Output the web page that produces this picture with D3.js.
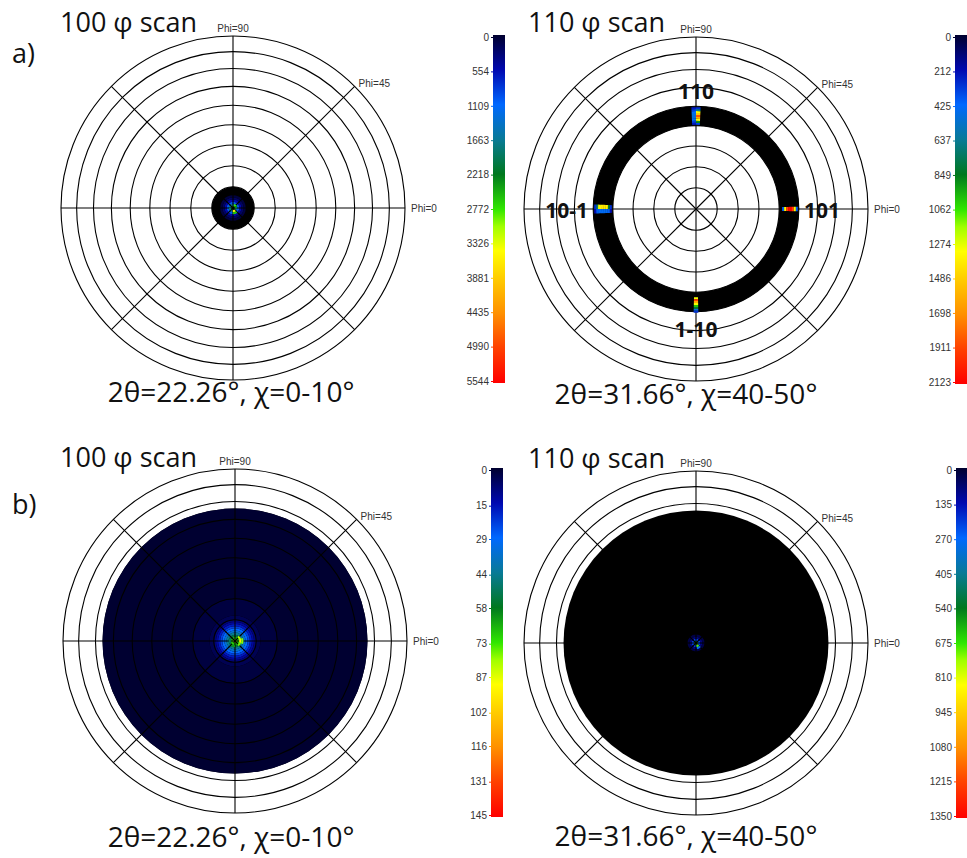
<!DOCTYPE html>
<html>
<head>
<meta charset="utf-8">
<script src="https://cdn.jsdelivr.net/npm/d3@7"></script>
<style>
  body { margin: 0; background: #fff; }
  .big { font-family: "Open Sans", sans-serif; fill: #111; }
  .small { font-family: "Liberation Sans", Arial, sans-serif; font-size: 10px; fill: #333; }
</style>
</head>
<body>
<svg id="chart" width="967" height="858"></svg>
<script>
// polar grid (chi rings every 10 deg, phi spokes every 45 deg)
const chiRings = [10, 20, 30, 40, 50, 60, 70, 80, 90];
const phiSpokes = [0, 45, 90, 135, 180, 225, 270, 315];

// colour bar tick labels of each scan
const ticksA100 = [0, 554, 1109, 1663, 2218, 2772, 3326, 3881, 4435, 4990, 5544];
const ticksA110 = [0, 212, 425, 637, 849, 1062, 1274, 1486, 1698, 1911, 2123];
const ticksB100 = [0, 15, 29, 44, 58, 73, 87, 102, 116, 131, 145];
const ticksB110 = [0, 135, 270, 405, 540, 675, 810, 945, 1080, 1215, 1350];

// measured chi range of each scan [from, to]
const coverA100 = [0, 10];
const coverA110 = [40, 50];
const coverB100 = [0, 66];
const coverB110 = [0, 66];

// radial intensity profile: [chiFrom, chiTo, counts]
const profileA100 = [[0, 1, 2400], [1, 2, 1600], [2, 3, 1000], [3, 4, 520], [4, 5, 220], [5, 6, 70]];
const profileA110 = [];
const profileB100 = [[0, 1, 80], [1, 2, 66], [2, 3, 54], [3, 4, 44], [4, 5, 36], [5, 6, 29], [6, 7, 23],
  [7, 8, 17], [8, 9, 12], [9, 10, 8], [10, 12, 4], [12, 20, 2], [20, 66, 0.3]];
const profileB110 = [[0, 1, 600], [1, 2, 220], [2, 3, 80], [3, 4, 25]];

// hot spots: [phi, chi, counts]
const spotsA100 = [[-70, 1.5, 3600], [-70, 2.5, 2600], [50, 1.5, 2800], [15, 1.5, 2300], [200, 1.5, 1900]];
const spotsA110 = [
  // 110 (phi 90)
  [91.3, 41, 250], [91.3, 42, 330], [91.3, 43, 450], [91.3, 44, 500], [91.3, 45, 500], [91.3, 46, 480], [91.3, 47, 420], [91.3, 48, 330], [91.3, 49, 250],
  [88.7, 41, 350], [88.7, 42, 900], [88.7, 43, 1300], [88.7, 44, 1600], [88.7, 45, 1850], [88.7, 46, 1500], [88.7, 47, 1300], [88.7, 48, 650], [88.7, 49, 300],
  // 101 (phi 0)
  [0, 42, 400], [0, 43, 1300], [0, 44, 1900], [0, 45, 2100], [0, 46, 2100], [0, 47, 1900], [0, 48, 1300], [0, 49, 400],
  // 10-1 (phi 180)
  [178.7, 41, 300], [178.7, 42, 800], [178.7, 43, 1350], [178.7, 44, 1400], [178.7, 45, 1400], [178.7, 46, 1350], [178.7, 47, 1300], [178.7, 48, 700], [178.7, 49, 300],
  [181.3, 41, 220], [181.3, 42, 400], [181.3, 43, 450], [181.3, 44, 450], [181.3, 45, 450], [181.3, 46, 450], [181.3, 47, 450], [181.3, 48, 400], [181.3, 49, 220],
  // 1-10 (phi 270)
  [270, 43, 1300], [270, 44, 1900], [270, 45, 1600], [270, 46, 1300], [270, 47, 1000], [270, 48, 800], [270, 49, 500], [270, 50, 300]
];
const spotsB100 = [[0, 2.5, 95], [0, 3.5, 78], [35, 2.5, 82], [-35, 2.5, 76], [225, 1.5, 70], [250, 2.5, 62], [180, 2.5, 50]];
const spotsB110 = [[-60, 1.5, 700], [-60, 2.5, 300]];

// hkl labels of the 110 scan: [text, phi]
const hklA110 = [["110", 90], ["101", 0], ["10-1", 180], ["1-10", 270]];

// colour map (fraction of max -> colour)
const stopT = [0, 0.1, 0.2, 0.3, 0.4, 0.5, 0.55, 0.62, 0.7, 0.8, 0.9, 1];
const stopC = ["#00002e", "#0008b0", "#0068ff", "#087a96", "#00781e", "#30e600",
  "#a0ff00", "#ffff00", "#ffcc00", "#ff9000", "#ff4000", "#ff0000"];

const R = 172;
const rScale = d3.scaleRadial().domain([0, 1]).range([0, R]);   // equal-area projection
const r = chi => rScale(1 - Math.cos(chi * Math.PI / 180));
const ang = d3.scaleLinear().domain([0, 90]).range([Math.PI / 2, 0]);  // phi -> d3 angle

const panels = [
  { id: "a100", cx: 233, cy: 208, title: "100 φ scan", tx: 60, ty: 32,
    caption: "2θ=22.26°, χ=0-10°", capx: 231, capy: 402,
    ticks: ticksA100, cover: coverA100, profile: profileA100, spots: spotsA100, cell: [45, 1],
    bar: { x: 493, y0: 37, y1: 381 } },
  { id: "a110", cx: 696, cy: 209, title: "110 φ scan", tx: 528, ty: 32,
    caption: "2θ=31.66°, χ=40-50°", capx: 686, capy: 404,
    ticks: ticksA110, cover: coverA110, profile: profileA110, spots: spotsA110, cell: [2.6, 1],
    bar: { x: 955, y0: 37, y1: 382 } },
  { id: "b100", cx: 235, cy: 641, title: "100 φ scan", tx: 60, ty: 467,
    caption: "2θ=22.26°, χ=0-10°", capx: 231, capy: 847,
    ticks: ticksB100, cover: coverB100, profile: profileB100, spots: spotsB100, cell: [40, 1],
    bar: { x: 491, y0: 470, y1: 815 } },
  { id: "b110", cx: 696, cy: 643, title: "110 φ scan", tx: 528, ty: 468,
    caption: "2θ=31.66°, χ=40-50°", capx: 686, capy: 846,
    ticks: ticksB110, cover: coverB110, profile: profileB110, spots: spotsB110, cell: [40, 1],
    bar: { x: 956, y0: 470, y1: 816 } }
];

const svg = d3.select("#chart");
const defs = svg.append("defs");
const arc = d3.arc();

svg.append("text").attr("class", "big").attr("x", 12).attr("y", 63)
  .style("font-size", "27px").text("a)");
svg.append("text").attr("class", "big").attr("x", 12).attr("y", 514)
  .style("font-size", "27px").text("b)");

panels.forEach(p => {
  const max = p.ticks[p.ticks.length - 1];
  const color = d3.scaleLinear().domain(stopT.map(t => t * max)).range(stopC).clamp(true);
  const g = svg.append("g").attr("transform", `translate(${p.cx},${p.cy})`);

  // measured area
  g.append("path")
    .attr("d", arc({ innerRadius: r(p.cover[0]), outerRadius: r(p.cover[1]), startAngle: 0, endAngle: 2 * Math.PI }))
    .attr("fill", "#000");

  // radial profile
  g.selectAll(".prof").data(p.profile).enter().append("path")
    .attr("class", "prof")
    .attr("d", d => arc({ innerRadius: r(d[0]), outerRadius: r(d[1]), startAngle: 0, endAngle: 2 * Math.PI }))
    .attr("fill", d => color(d[2]));

  // grid
  g.selectAll(".ring").data(chiRings).enter().append("circle")
    .attr("class", "ring").attr("r", d => r(d))
    .attr("fill", "none").attr("stroke", "#000").attr("stroke-width", 1.1);
  g.selectAll(".spoke").data(phiSpokes).enter().append("line")
    .attr("class", "spoke")
    .attr("x1", 0).attr("y1", 0)
    .attr("x2", d => d3.pointRadial(ang(d), R)[0])
    .attr("y2", d => d3.pointRadial(ang(d), R)[1])
    .attr("stroke", "#000").attr("stroke-width", 1.1);

  // hot spots
  const dphi = p.cell[0], dchi = p.cell[1];
  g.selectAll(".spot").data(p.spots).enter().append("path")
    .attr("class", "spot")
    .attr("d", d => arc({ innerRadius: r(d[1] - dchi / 2), outerRadius: r(d[1] + dchi / 2),
      startAngle: ang(d[0] + dphi / 2), endAngle: ang(d[0] - dphi / 2) }))
    .attr("fill", d => color(d[2]));

  // phi labels
  const p90 = d3.pointRadial(ang(90), R), p45 = d3.pointRadial(ang(45), R), p0 = d3.pointRadial(ang(0), R);
  g.append("text").attr("class", "small").attr("x", p90[0]).attr("y", p90[1] - 4)
    .attr("text-anchor", "middle").text("Phi=90");
  g.append("text").attr("class", "small").attr("x", p45[0] + 4).attr("y", p45[1] + 1).text("Phi=45");
  g.append("text").attr("class", "small").attr("x", p0[0] + 6).attr("y", p0[1] + 4).text("Phi=0");

  if (p.id === "a110") {
    g.selectAll(".hkl").data(hklA110).enter().append("text")
      .attr("class", "big hkl")
      .style("font-size", "21px").style("font-weight", 700)
      .attr("text-anchor", d => d[1] === 0 ? "start" : d[1] === 180 ? "end" : "middle")
      .attr("dominant-baseline", "central")
      .attr("x", d => d3.pointRadial(ang(d[1]), d[1] % 180 === 0 ? 108 : 119)[0])
      .attr("y", d => d3.pointRadial(ang(d[1]), d[1] % 180 === 0 ? 108 : 119)[1] + 1)
      .text(d => d[0]);
  }

  // title and caption
  svg.append("text").attr("class", "big").attr("x", p.tx).attr("y", p.ty)
    .style("font-size", "27px").text(p.title);
  svg.append("text").attr("class", "big").attr("x", p.capx).attr("y", p.capy)
    .attr("text-anchor", "middle").style("font-size", "28px").text(p.caption);

  // colour bar
  const grad = defs.append("linearGradient").attr("id", "grad-" + p.id)
    .attr("x1", 0).attr("y1", 0).attr("x2", 0).attr("y2", 1);
  grad.selectAll("stop").data(stopT).enter().append("stop")
    .attr("offset", d => d).attr("stop-color", (d, i) => stopC[i]);
  const yBar = d3.scaleLinear().domain([0, max]).range([p.bar.y0, p.bar.y1]);
  svg.append("rect").attr("x", p.bar.x).attr("y", p.bar.y0 - 2)
    .attr("width", 12).attr("height", p.bar.y1 - p.bar.y0 + 4)
    .attr("fill", `url(#grad-${p.id})`);
  const ax = svg.append("g").attr("transform", `translate(${p.bar.x},0)`)
    .call(d3.axisLeft(yBar).tickValues(p.ticks).tickSize(2).tickPadding(2).tickFormat(d3.format("d")));
  ax.select(".domain").remove();
  ax.selectAll(".tick line").attr("stroke", d => color(d));
  ax.selectAll(".tick text").attr("class", "small").attr("font-family", null).attr("font-size", null);
});
</script>
</body>
</html>
